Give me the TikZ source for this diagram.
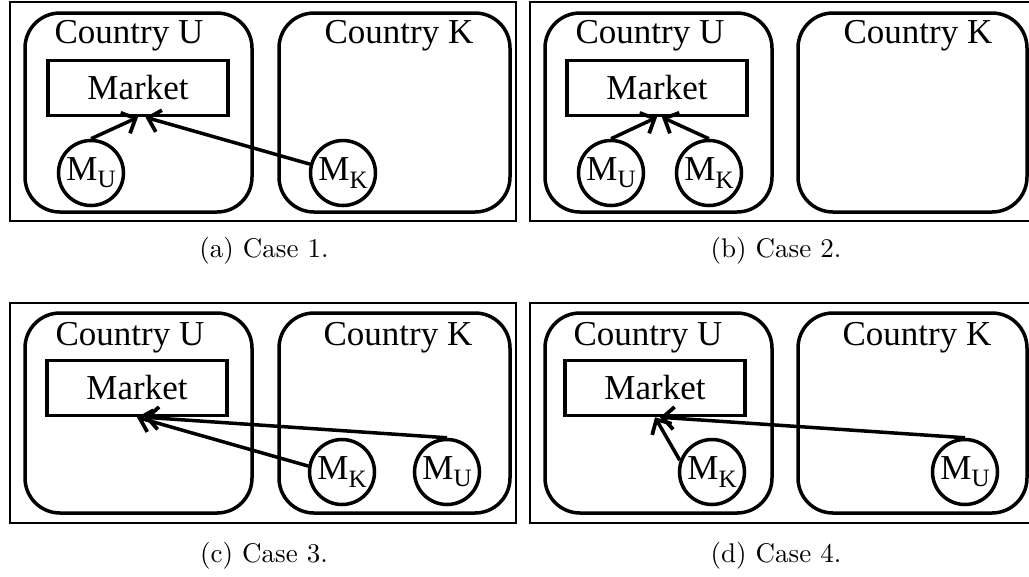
\documentclass[tikz,border=0pt]{standalone}
\usepackage{fontspec}
\usepackage{tikz}
\usetikzlibrary{arrows.meta}
\newfontfamily\tnr{Liberation Serif}
\newcommand{\lowsub}[1]{\raisebox{-0.45ex}{\fontsize{10}{10}\selectfont #1}}
\tikzset{
  frame/.style={line width=0.8pt},
  country/.style={line width=1.4pt,rounded corners=14pt},
  ctext/.style={font=\tnr\fontsize{14}{16}\selectfont},
  market/.style={draw,line width=1.4pt,minimum width=72pt,minimum height=22pt,inner sep=0pt,font=\tnr\fontsize{14}{16}\selectfont},
  firm/.style={draw,circle,line width=1.4pt,minimum size=26pt,inner sep=0pt,font=\tnr\fontsize{14}{16}\selectfont},
  flow/.style={line width=1.4pt,-{Straight Barb[length=4.5pt,width=9pt,line width=1.5pt]}},
  caption/.style={font=\fontsize{10.8}{12}\selectfont}
}

\begin{document}
\begin{tikzpicture}[x=0.4pt,y=-0.4pt]
\path[use as bounding box] (0,0) rectangle (1029,576);
% (a) case 1
\draw[frame] (10,2) rectangle (516,221);
\draw[country] (25,13) rectangle (252,212);
\draw[country] (279,13) rectangle (510,212);
\node[ctext] (cuA) at (129,36) {Country U};
\node[ctext] (ckA) at (399,36) {Country K};
\node[market] (mktA) at (138,88) {Market};
\node[firm] (muA) at (91,173) {M\lowsub{U}};
\node[firm] (mkA) at (343,173) {M\lowsub{K}};
\draw[flow] (muA.north) -- (mktA.south);
\draw[flow] (mkA.165) -- ([xshift=3pt]mktA.south);
\node[caption] (capA) at (264,251) {(a) Case 1.};
% (b) case 2
\draw[frame] (530,2) rectangle (1035,221);
\draw[country] (545,13) rectangle (772,212);
\draw[country] (798,13) rectangle (1027,212);
\node[ctext] (cuB) at (650,36) {Country U};
\node[ctext] (ckB) at (918,36) {Country K};
\node[market] (mktB) at (657,88) {Market};
\node[firm] (muB) at (611,173) {M\lowsub{U}};
\node[firm] (mkB) at (709,173) {M\lowsub{K}};
\draw[flow] (muB.north) -- (mktB.south);
\draw[flow] (mkB.north) -- ([xshift=2pt]mktB.south);
\node[caption] (capB) at (776,251) {(b) Case 2.};
% (c) case 3
\draw[frame] (10,303) rectangle (516,523);
\draw[country] (25,313) rectangle (252,513);
\draw[country] (279,313) rectangle (510,513);
\node[ctext] (cuC) at (130,338) {Country U};
\node[ctext] (ckC) at (398,338) {Country K};
\node[market] (mktC) at (137,388) {Market};
\node[firm] (mkC) at (342,472) {M\lowsub{K}};
\node[firm] (muC) at (447,472) {M\lowsub{U}};
\draw[flow] (mkC.170) -- (mktC.south);
\draw[flow] (muC.north) -- ([xshift=3pt]mktC.south);
\node[caption] (capC) at (264,556) {(c) Case 3.};
% (d) case 4
\draw[frame] (530,303) rectangle (1035,523);
\draw[country] (545,313) rectangle (772,513);
\draw[country] (798,313) rectangle (1027,513);
\node[ctext] (cuD) at (648,338) {Country U};
\node[ctext] (ckD) at (917,338) {Country K};
\node[market] (mktD) at (655,388) {Market};
\node[firm] (mkD) at (712,472) {M\lowsub{K}};
\node[firm] (muD) at (965,472) {M\lowsub{U}};
\draw[flow] (mkD.160) -- (mktD.south);
\draw[flow] (muD.north) -- ([xshift=2pt]mktD.south);
\node[caption] (capD) at (776,556) {(d) Case 4.};
\end{tikzpicture}
\end{document}
